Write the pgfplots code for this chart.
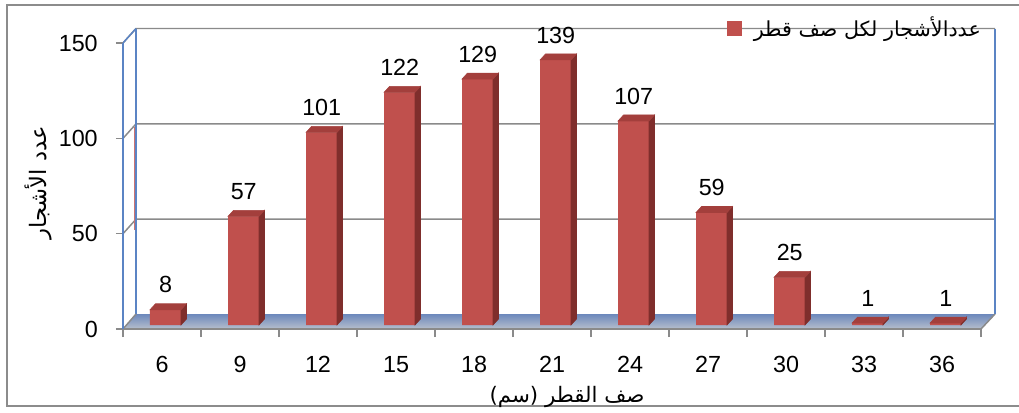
\documentclass[border=0pt]{standalone}
\usepackage{pgfplots}
\pgfplotsset{compat=1.18}
\usepackage{pgfplotstable}
\usepackage{fontspec}
\setmainfont{Liberation Sans}
\newfontfamily\arabicfont[Script=Arabic]{DejaVu Sans}
\TeXXeTstate=1

\definecolor{barfront}{HTML}{C0504D}
\definecolor{bartop}{HTML}{A33F3C}
\definecolor{barside}{HTML}{7F2E2C}
\definecolor{gridgray}{HTML}{8A8A8A}
\definecolor{wallblue}{HTML}{5B84C4}
\definecolor{floortop}{HTML}{6C88BC}
\definecolor{floorbot}{HTML}{B7BFCC}
\definecolor{framegray}{HTML}{8C8C8C}

% a mark that draws nothing: the 3D faces are drawn by the scatter code
\pgfdeclareplotmark{blank}{}

% number of trees per diameter class (category index, count)
\pgfplotstableread{
x n
0 8
1 57
2 101
3 122
4 129
5 139
6 107
7 59
8 25
9 1
10 1
}\trees

\begin{document}
\begin{tikzpicture}
% walls, floor and frame, in pixel-like units
\begin{scope}[x=0.75pt,y=-0.75pt,shift={(-92.25pt,246.75pt)}]
  \path[use as bounding box] (0,0) rectangle (1019,410);
  \draw[framegray, line width=1.5pt] (1030,4.5) -- (7,4.5) -- (7,405.5) -- (1030,405.5);
  \shade[top color=floortop, bottom color=floorbot]
    (136,314) -- (995,314) -- (981,329) -- (123,329) -- cycle;
  \foreach \f/\b in {233.7/219.2, 138.4/123.9, 43/28.5} {
    \draw[gridgray, line width=1.1pt] (123,\f) -- (136,\b) -- (995,\b);
  }
  \draw[wallblue, line width=1.1pt] (136,314) -- (136,28.5);
  \draw[wallblue, line width=1.1pt] (995,314) -- (995,28.5);
  \draw[wallblue, line width=1.1pt] (123,43) -- (136,28.5);
  \draw[barfront!80, line width=0.6pt] (134.4,127) -- (134.4,230);
  \draw[gridgray, line width=1.1pt] (123,329) -- (136,314);
  \draw[gridgray, line width=1.1pt] (981,329) -- (995,314);
\end{scope}

\begin{axis}[
  at={(0,0)}, anchor=south west,
  scale only axis, width=643.5pt, height=214.5pt,
  xmin=-0.5, xmax=10.5, ymin=0, ymax=150,
  axis x line*=bottom, axis y line*=left,
  x axis line style={draw=gridgray, line width=1.1pt},
  y axis line style={draw=wallblue, line width=1.1pt},
  xtick={0,...,10},
  xticklabels={6,9,12,15,18,21,24,27,30,33,36},
  minor xtick={-0.5,0.5,...,10.5},
  ytick={0,50,100,150},
  tick align=outside,
  major tick length=5.25pt,
  minor tick length=6pt,
  major x tick style={draw=none},
  minor x tick style={draw=gridgray, line width=1.1pt},
  y tick style={draw=gridgray, line width=1.1pt},
  /pgf/number format/assume math mode=true,
  tick label style={font=\fontsize{17.5}{20}\selectfont},
  xticklabel style={anchor=north, inner sep=0pt, yshift=-15pt},
  yticklabel style={anchor=east, inner sep=0pt, xshift=-13.5pt},
  xlabel={\arabicfont\beginR صف القطر (سم)\endR},
  ylabel={\arabicfont\beginR عدد الأشجار\endR},
  every axis x label/.style={at={(axis description cs:0.5175,-0.2378)}, anchor=center,
    font=\fontsize{16}{19}\selectfont},
  every axis y label/.style={at={(axis description cs:-0.0991,0.5105)}, anchor=center,
    rotate=90, font=\fontsize{17}{20}\selectfont},
  legend style={draw=none, fill=none, at={(axis description cs:0.6993,1.0524)}, anchor=west,
    nodes={inner sep=0pt}, column sep=9pt, font=\fontsize{15.5}{19}\selectfont},
  legend cell align=left,
]
% front faces of the bars
\addplot[ybar, bar width=23.25pt, bar shift=2.625pt, yshift=3pt,
  fill=barfront, draw=none, forget plot] table[x=x, y=n]{\trees};
% top and side faces of the bars
\addplot[scatter, only marks, mark=blank, forget plot,
  point meta=explicit symbolic,
  scatter/@pre marker code/.code={%
    \pgfmathsetmacro\hb{7.5-\pgfplotspointmeta*1.43}%
    \pgfmathsetmacro\hc{3-\pgfplotspointmeta*1.43}%
    \fill[barside] (14.25pt,3pt) -- (18.375pt,7.5pt) -- (18.375pt,\hb pt) -- (14.25pt,\hc pt) -- cycle;
    \fill[bartop] (-9pt,3pt) -- (14.25pt,3pt) -- (18.375pt,7.5pt) -- (-4.875pt,7.5pt) -- cycle;
  },
  scatter/@post marker code/.code={},
] table[x=x, y=n, meta=n]{\trees};
% value labels above the bars
\addplot[only marks, mark=none, forget plot,
  point meta=explicit symbolic,
  nodes near coords,
  every node near coord/.append style={anchor=center, xshift=2.8pt, yshift=21.75pt,
    text=black, inner sep=0pt, font=\fontsize{17.5}{20}\selectfont},
] table[x=x, y=n, meta=n]{\trees};
\addlegendimage{legend image code/.code={\fill[barfront] (0pt,-5.25pt) rectangle (10.5pt,5.25pt);}}
\addlegendentry{\arabicfont\beginR عددالأشجار لكل صف قطر\endR}
\end{axis}
\end{tikzpicture}
\end{document}
